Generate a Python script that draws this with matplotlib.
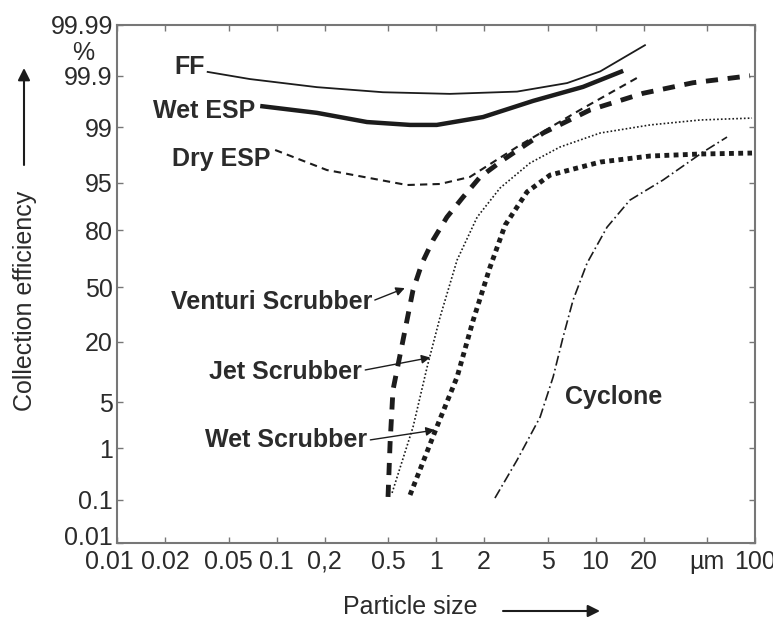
import numpy as np
import matplotlib
matplotlib.use('Agg')
import matplotlib.pyplot as plt
from matplotlib.transforms import ScaledTranslation

plt.rcParams['font.family'] = ['Liberation Sans', 'DejaVu Sans']

# particle size (um) vs collection efficiency (%)
ff_size = [0.037, 0.068, 0.179, 0.465, 1.22, 3.22, 6.63, 10.7, 20.4]
ff_eff = [99.916, 99.884, 99.833, 99.79, 99.774, 99.796, 99.861, 99.918, 99.975]

wet_esp_size = [0.079, 0.179, 0.369, 0.687, 1.01, 1.97, 4.06, 8.35, 14.9]
wet_esp_eff = [99.61, 99.47, 99.20, 99.09, 99.09, 99.36, 99.69, 99.835, 99.92]

dry_esp_size = [0.098, 0.207, 0.657, 1.06, 1.63, 3.36, 8.0, 18.2]
dry_esp_eff = [98.05, 96.53, 94.67, 94.84, 95.78, 98.31, 99.535, 99.89]

venturi_size = [0.5, 0.515, 0.537, 0.621, 0.717, 0.817, 0.957, 1.17, 1.48,
                1.89, 2.63, 4.69, 9.24, 19.9, 40.8, 93]
venturi_eff = [0.1145, 1.19, 6.71, 20.8, 48.1, 64.2, 75.8, 86.0, 92.3,
               95.78, 97.4, 98.81, 99.535, 99.78, 99.863, 99.9]

jet_size = [0.53, 0.717, 0.879, 1.06, 1.355, 1.81, 2.52, 3.88, 5.98, 10.7, 22, 45.2, 95.7]
jet_eff = [0.137, 2.10, 11.55, 31.95, 65.9, 86.0, 94.15, 97.16, 98.21, 98.81, 99.09, 99.27, 99.33]

wet_scr_size = [0.687, 1.01, 1.355, 1.71, 2.18, 2.71, 3.72, 5.19, 10.7, 22, 45.2, 95.7]
wet_scr_eff = [0.125, 2.10, 9.16, 30.3, 61.9, 82.5, 93.4, 96.0, 97.24, 97.68, 97.81, 97.87]

cyclone_size = [2.34, 3.22, 4.49, 5.42, 6.26, 7.23, 8.85, 11.8, 16.4, 26.5, 47.2, 66.7]
cyclone_eff = [0.109, 0.59, 2.98, 9.16, 22.1, 41.9, 64.2, 81.5, 91.5, 95.4, 97.93, 98.66]

size_ticks = [0.01, 0.02, 0.05, 0.1, 0.2, 0.5, 1, 2, 5, 10, 20, 50, 100]
size_labels = ['0.01', '0.02', '0.05', '0.1', '0,2', '0.5', '1', '2', '5',
               '10', '20', 'µm', '100']
eff_ticks = [0.01, 0.1, 1, 5, 20, 50, 80, 95, 99, 99.9, 99.99]
eff_labels = ['0.01', '0.1', '1', '5', '20', '50', '80', '95', '99', '99.9', '99.99']

# the printed efficiency axis is only roughly a probability scale,
# so pin every tick to its height and interpolate in logit space between them
eff_rows = [0, 0.083, 0.183, 0.272, 0.388, 0.494, 0.604, 0.695, 0.803, 0.902, 1]


def logit(p):
    p = np.clip(np.asarray(p, dtype=float), 1e-6, 100 - 1e-6)
    return np.log(p / (100 - p))


def eff_forward(p):
    return np.interp(logit(p), logit(eff_ticks), eff_rows)


def eff_inverse(r):
    l = np.interp(r, eff_rows, logit(eff_ticks))
    return 100 / (1 + np.exp(-l))


ink = '#1c1c1c'
text_col = '#2b2b2b'
frame = '#777777'

fig = plt.figure(figsize=(7.73, 6.28), dpi=100)
ax = fig.add_axes([0.1514, 0.1354, 0.8254, 0.8248])

ax.set_xscale('log')
ax.set_yscale('function', functions=(eff_forward, eff_inverse))

ax.plot(ff_size, ff_eff, color=ink, lw=1.3)
ax.plot(wet_esp_size, wet_esp_eff, color=ink, lw=3.2, solid_capstyle='butt')
ax.plot(dry_esp_size, dry_esp_eff, color=ink, lw=1.5, dashes=(3.5, 2.5))
ax.plot(venturi_size, venturi_eff, color=ink, lw=3.5, dashes=(2.5, 2))
ax.plot(jet_size, jet_eff, color=ink, lw=1.2, dashes=(1, 1.3))
ax.plot(wet_scr_size, wet_scr_eff, color=ink, lw=3.5, dashes=(1, 0.9))
ax.plot(cyclone_size, cyclone_eff, color=ink, lw=1.2, dashes=(6, 2, 1, 2))

ax.set_xlim(0.01, 100)
ax.set_ylim(0.01, 99.99)
ax.set_xticks(size_ticks)
ax.set_xticklabels(size_labels)
ax.set_yticks(eff_ticks)
ax.set_yticklabels(eff_labels)
ax.minorticks_off()

for s in ax.spines.values():
    s.set_color(frame)
    s.set_linewidth(1.5)
ax.tick_params(direction='in', top=True, right=True, length=4, width=1,
               color=frame, labelsize=18, labelcolor=text_col)
ax.tick_params(axis='x', pad=5)
ax.tick_params(axis='y', pad=3)

# the corner labels sit nudged away from the corner, as printed
first_x = ax.get_xticklabels()[0]
first_x.set_transform(first_x.get_transform() + ScaledTranslation(-0.08, 0, fig.dpi_scale_trans))
first_y = ax.get_yticklabels()[0]
first_y.set_transform(first_y.get_transform() + ScaledTranslation(0, 0.07, fig.dpi_scale_trans))

# curve names
lab = dict(transform=ax.transAxes, fontsize=18, fontweight='bold',
           color=text_col, va='center')
ax.text(0.138, 0.919, 'FF', ha='right', **lab)
ax.text(0.216, 0.834, 'Wet ESP', ha='right', **lab)
ax.text(0.240, 0.741, 'Dry ESP', ha='right', **lab)
ax.text(0.3997, 0.465, 'Venturi Scrubber', ha='right', **lab)
ax.text(0.384, 0.330, 'Jet Scrubber', ha='right', **lab)
ax.text(0.392, 0.199, 'Wet Scrubber', ha='right', **lab)
ax.text(0.702, 0.282, 'Cyclone', ha='left', **lab)

arrow = dict(arrowstyle='-|>', color=ink, lw=1, mutation_scale=13, shrinkA=0, shrinkB=0)
for tail, head in [((0.404, 0.469), (0.451, 0.492)),
                   ((0.389, 0.334), (0.491, 0.358)),
                   ((0.397, 0.199), (0.498, 0.218))]:
    ax.annotate('', xy=head, xytext=tail, xycoords='axes fraction',
                textcoords='axes fraction', arrowprops=arrow)

# axis titles with their arrows
fig.text(83 / 773, 1 - 53 / 628, '%', fontsize=18, color=text_col, ha='center', va='center')
fig.text(25 / 773, 1 - 301 / 628, 'Collection efficiency', rotation=90,
         fontsize=18, color=text_col, ha='center', va='center')
fig.text(410 / 773, 1 - 607 / 628, 'Particle size', fontsize=18,
         color=text_col, ha='center', va='center')
big_arrow = dict(arrowstyle='-|>', color=ink, lw=1.5, mutation_scale=18, shrinkA=0, shrinkB=0)
ax.annotate('', xy=(24 / 773, 1 - 68 / 628), xytext=(24 / 773, 1 - 165 / 628),
            xycoords='figure fraction', textcoords='figure fraction',
            arrowprops=big_arrow, annotation_clip=False)
ax.annotate('', xy=(600 / 773, 1 - 611 / 628), xytext=(503 / 773, 1 - 611 / 628),
            xycoords='figure fraction', textcoords='figure fraction',
            arrowprops=big_arrow, annotation_clip=False)

fig.savefig('out.png', dpi=100)
